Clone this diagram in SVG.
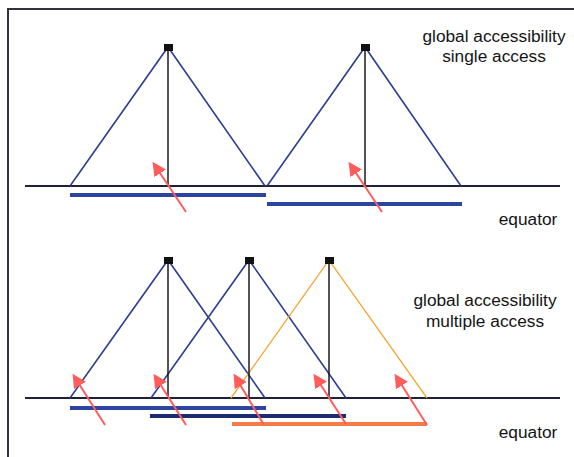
<svg xmlns="http://www.w3.org/2000/svg" width="574" height="457" viewBox="0 0 574 457">
<defs>
<style>
.frame{stroke:#333340;stroke-width:2;fill:none}
.eq{stroke:#1e2238;stroke-width:2;fill:none}
.cone{stroke:#2f3f8f;stroke-width:1.6;fill:none}
.cone2{stroke:#f2a838;stroke-width:1.3;fill:none}
.nadir{stroke:#1a1a22;stroke-width:1.5;fill:none}
.bar{stroke:#2c46a0;stroke-width:4;fill:none}
.bar2{stroke:#1c2c70;stroke-width:4;fill:none}
.bar3{stroke:#f47a48;stroke-width:4;fill:none}
.sat{fill:#111}
.arr{stroke:#ff5c5c;stroke-width:2;fill:none;marker-end:url(#ah)}
text{font-family:"Liberation Sans",Arial,sans-serif;font-size:17.3px;fill:#151515}
</style>
<marker id="ah" viewBox="0 0 10 10" refX="8" refY="5" markerWidth="7" markerHeight="7" markerUnits="strokeWidth" orient="auto">
<path d="M0,0 L10,5 L0,10 z" fill="#ff5c5c"/>
</marker>
</defs>
<g id="frame">
<path class="frame" d="M8,457 L8,9 L574,9"/>
</g>
<g id="labels">
<text x="494" y="42" text-anchor="middle">global accessibility</text>
<text x="494" y="62" text-anchor="middle">single access</text>
<text x="528" y="225" text-anchor="middle">equator</text>
<text x="485" y="306" text-anchor="middle">global accessibility</text>
<text x="485" y="327" text-anchor="middle">multiple access</text>
<text x="528" y="438" text-anchor="middle">equator</text>
</g>
<g id="connectors">
<!-- top section -->
<line class="eq" x1="25" y1="186" x2="560" y2="186"/>
<path class="cone" d="M70,186 L168,47 L265,186"/>
<path class="cone" d="M267,186 L365,47 L461,186"/>
<line class="nadir" x1="168" y1="47" x2="168" y2="186"/>
<line class="nadir" x1="365" y1="47" x2="365" y2="186"/>
<line class="bar" x1="70" y1="195" x2="266" y2="195"/>
<line class="bar" x1="267" y1="204" x2="462" y2="204"/>
<line class="arr" x1="186" y1="212" x2="154" y2="164"/>
<line class="arr" x1="382" y1="212" x2="350" y2="164"/>
<!-- bottom section -->
<line class="eq" x1="25" y1="398" x2="560" y2="398"/>
<path class="cone" d="M70,398 L168,260 L265,398"/>
<path class="cone" d="M151,398 L249,260 L346,398"/>
<path class="cone2" d="M231,398 L329,260 L427,398"/>
<line class="nadir" x1="168" y1="260" x2="168" y2="398"/>
<line class="nadir" x1="249" y1="260" x2="249" y2="398"/>
<line class="nadir" x1="329" y1="260" x2="329" y2="398"/>
<line class="bar" x1="70" y1="408" x2="266" y2="408"/>
<line class="bar2" x1="150" y1="416" x2="346" y2="416"/>
<line class="bar3" x1="232" y1="424" x2="427" y2="424"/>
<line class="arr" x1="105" y1="425" x2="74" y2="376"/>
<line class="arr" x1="186" y1="425" x2="155" y2="376"/>
<line class="arr" x1="264" y1="425" x2="235" y2="376"/>
<line class="arr" x1="346" y1="424" x2="315" y2="376"/>
<line class="arr" x1="427" y1="425" x2="396" y2="376"/>
</g>
<g id="sat1"><rect class="sat" x="164" y="44" width="9" height="7"/></g>
<g id="sat2"><rect class="sat" x="361" y="44" width="9" height="7"/></g>
<g id="sat3"><rect class="sat" x="164" y="257" width="9" height="7"/></g>
<g id="sat4"><rect class="sat" x="245" y="257" width="9" height="7"/></g>
<g id="sat5"><rect class="sat" x="325" y="257" width="9" height="7"/></g>
</svg>
